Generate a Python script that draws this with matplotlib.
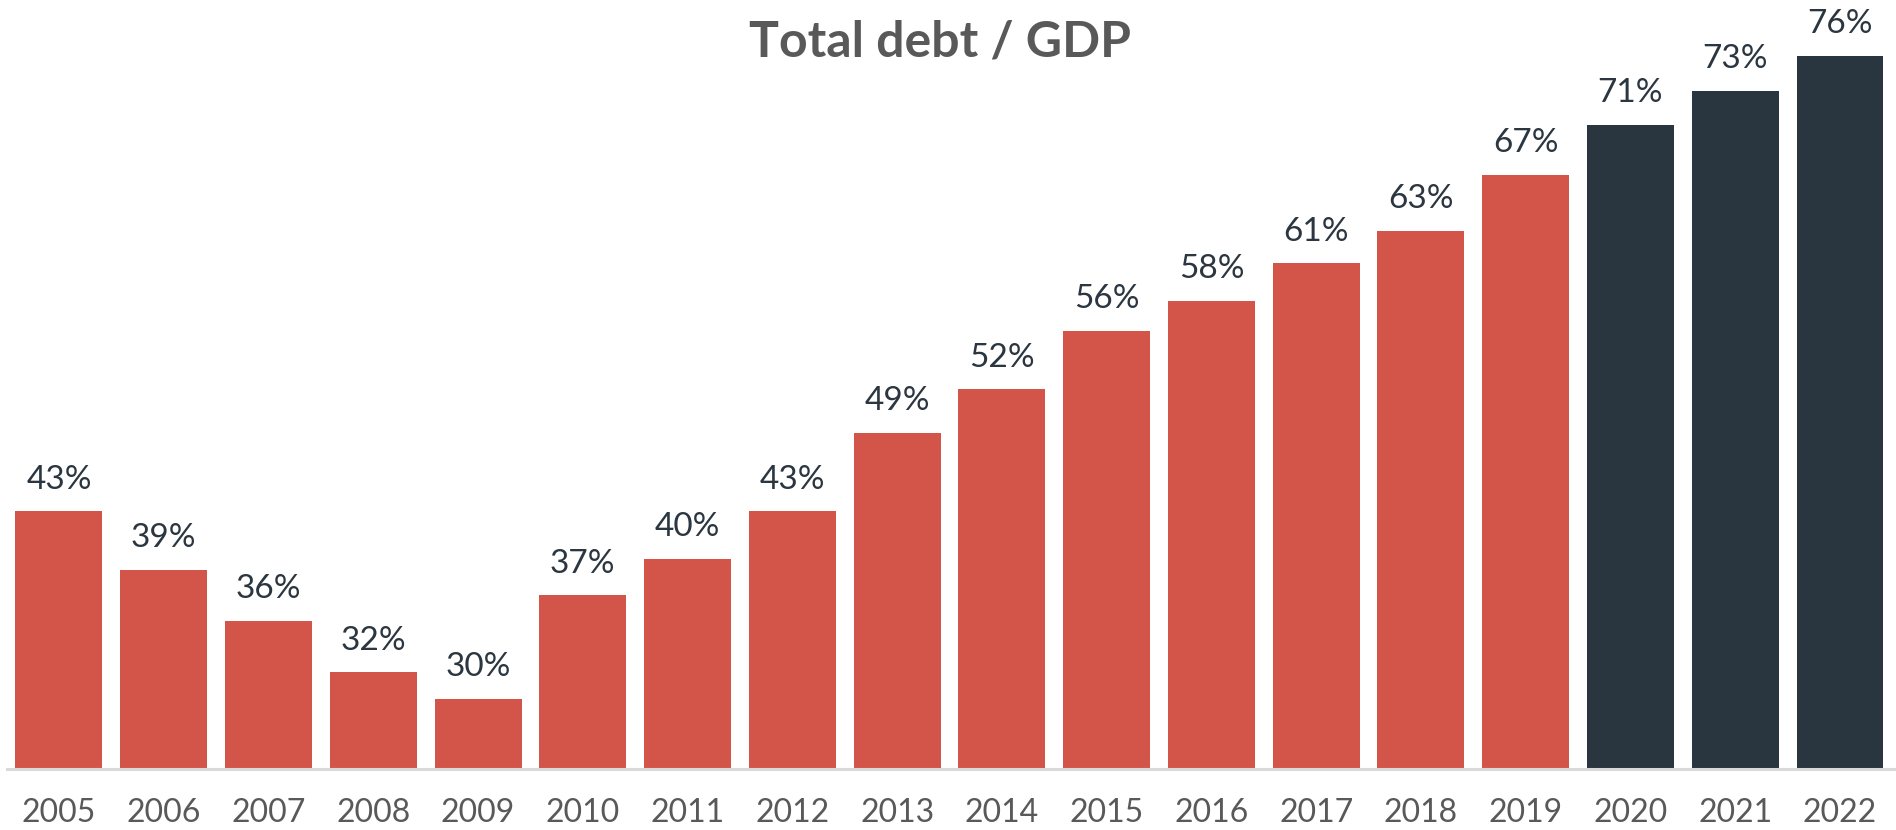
import numpy as np
from matplotlib import pyplot as plt

years = ['2005', '2006', '2007', '2008', '2009', '2010', '2011', '2012', '2013',
         '2014', '2015', '2016', '2017', '2018', '2019', '2020', '2021', '2022']
debt_gdp = [43.4, 39.2, 35.6, 31.9, 30.0, 37.4, 40.0, 43.4, 49.0,
            52.1, 56.3, 58.4, 61.1, 63.4, 67.4, 71.0, 73.4, 75.9]
is_forecast = [False] * 15 + [True] * 3

RED = '#d3554a'
DARK = '#2a363f'

plt.rcParams['font.family'] = ['Lato', 'DejaVu Sans']

fig = plt.figure(figsize=(18.96, 8.30), dpi=100)
ax = fig.add_axes([7 / 1896, 61 / 830, 1 - 7 / 1896, 769 / 830])

x = np.arange(len(years))
colors = [DARK if f else RED for f in is_forecast]
bars = ax.bar(x, debt_gdp, width=0.83, color=colors, zorder=2)

for b, v in zip(bars, debt_gdp):
    ax.annotate('%.0f%%' % v, (b.get_x() + b.get_width() / 2, v),
                xytext=(0, 12), textcoords='offset points',
                ha='center', va='bottom', fontsize=24, color='#2b3640')

ax.set_xlim(-0.496, len(years) - 1 + (1896 - 1840) / 104.76)
ax.set_ylim(25, 79.9)

ax.set_xticks(x)
ax.set_xticklabels(years, fontsize=23, color='#595959')
ax.tick_params(axis='x', length=0, pad=21)
ax.set_yticks([])

for s in ['top', 'left', 'right']:
    ax.spines[s].set_visible(False)
ax.spines['bottom'].set_color('#d9d9d9')
ax.spines['bottom'].set_linewidth(2.2)
ax.spines['bottom'].set_zorder(3)

fig.text(940 / 1896, 1 - 42 / 830, 'Total debt / GDP', ha='center', va='center',
         fontsize=36, fontweight='bold', color='#595959')

fig.savefig('out.png', dpi=100)
